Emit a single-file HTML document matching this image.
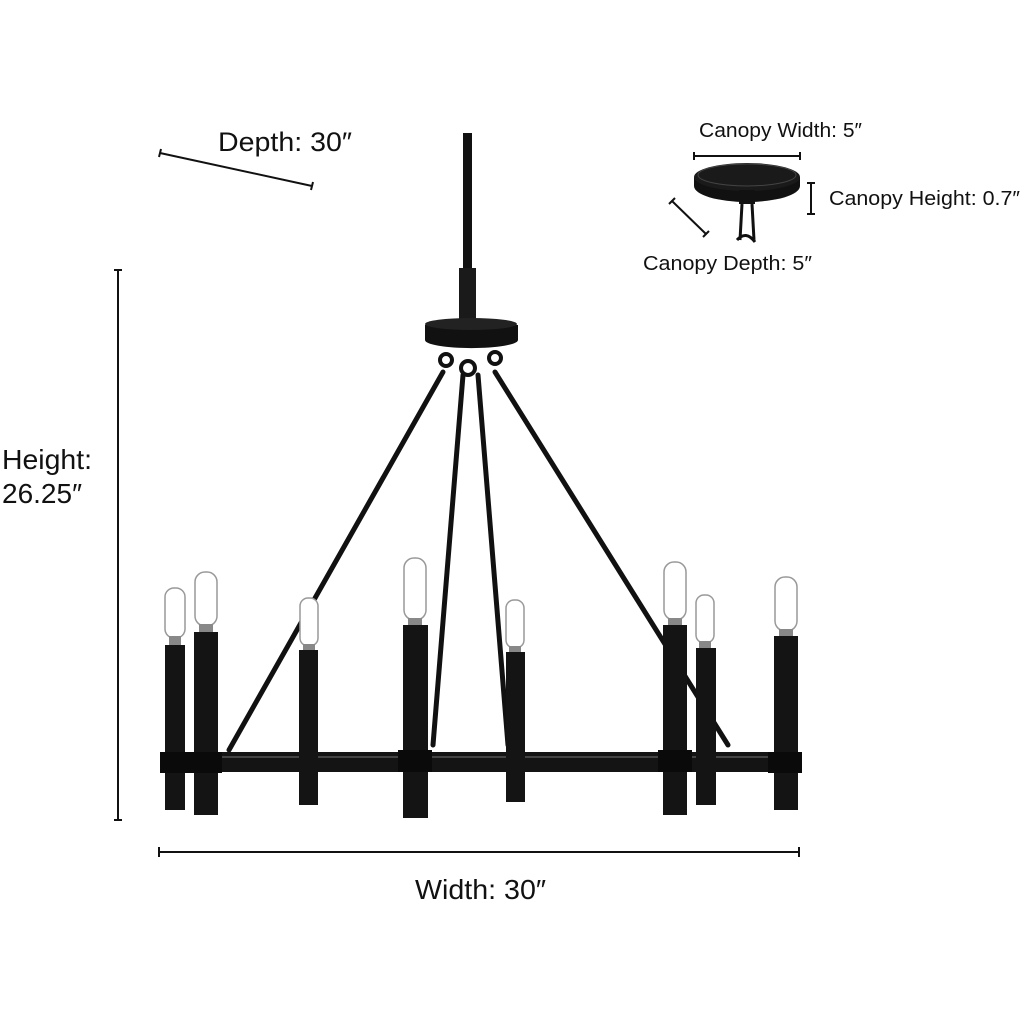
<!DOCTYPE html>
<html><head><style>
html,body{margin:0;padding:0;background:#fff;}
svg{display:block;}
text{font-family:"Liberation Sans",sans-serif;fill:#111;}
</style></head><body>
<svg width="1024" height="1024" viewBox="0 0 1024 1024" xmlns="http://www.w3.org/2000/svg">
<rect width="1024" height="1024" fill="#fff"/>
<g stroke="#111" stroke-width="2" fill="none">
<line x1="160" y1="153" x2="312" y2="186"/>
<line x1="161" y1="149" x2="159" y2="157"/><line x1="313" y1="182" x2="311" y2="190"/>
<line x1="118" y1="270" x2="118" y2="820"/>
<line x1="114" y1="270" x2="122" y2="270"/><line x1="114" y1="820" x2="122" y2="820"/>
<line x1="159" y1="852" x2="799" y2="852"/>
<line x1="159" y1="847" x2="159" y2="857"/><line x1="799" y1="847" x2="799" y2="857"/>
<line x1="694" y1="156" x2="800" y2="156"/>
<line x1="694" y1="152" x2="694" y2="160"/><line x1="800" y1="152" x2="800" y2="160"/>
<line x1="811" y1="183" x2="811" y2="214"/>
<line x1="807" y1="183" x2="815" y2="183"/><line x1="807" y1="214" x2="815" y2="214"/>
<line x1="672" y1="201" x2="706" y2="234"/>
<line x1="669" y1="204" x2="675" y2="198"/><line x1="703" y1="237" x2="709" y2="231"/>
</g>
<text x="218" y="151" font-size="27" textLength="134" lengthAdjust="spacingAndGlyphs">Depth: 30″</text>
<text x="2" y="469" font-size="28" textLength="90" lengthAdjust="spacingAndGlyphs">Height:</text>
<text x="2" y="503" font-size="28" textLength="80" lengthAdjust="spacingAndGlyphs">26.25″</text>
<text x="415" y="899" font-size="28" textLength="131" lengthAdjust="spacingAndGlyphs">Width: 30″</text>
<text x="699" y="137" font-size="20" textLength="163" lengthAdjust="spacingAndGlyphs">Canopy Width: 5″</text>
<text x="829" y="205" font-size="20" textLength="191" lengthAdjust="spacingAndGlyphs">Canopy Height: 0.7″</text>
<text x="643" y="270" font-size="20" textLength="169" lengthAdjust="spacingAndGlyphs">Canopy Depth: 5″</text>
<path d="M694 177 L694 186 A53 16 0 0 0 800 186 L800 177 Z" fill="#111"/>
<ellipse cx="747" cy="177" rx="53" ry="14" fill="#1a1a1a"/>
<ellipse cx="747" cy="175" rx="49" ry="11" fill="none" stroke="#444" stroke-width="1"/>
<rect x="739" y="190" width="16" height="14" fill="#111"/>
<path d="M742 204 L740 240 M752 204 L754 240 M737 240 Q746 230 755 242" stroke="#111" stroke-width="3" fill="none"/>
<rect x="463" y="133" width="9" height="140" fill="#111"/>
<rect x="459" y="268" width="17" height="55" fill="#1a1a1a"/>
<path d="M425 325 L425 340 A46 8 0 0 0 518 340 L518 325 Z" fill="#111"/>
<ellipse cx="471" cy="324" rx="46" ry="6" fill="#222"/>
<g stroke="#111" stroke-width="5" stroke-linecap="round">
<line x1="443" y1="372" x2="229" y2="750"/>
<line x1="463" y1="375" x2="433" y2="745"/>
<line x1="478" y1="375" x2="508" y2="745"/>
<line x1="495" y1="372" x2="728" y2="745"/>
</g>
<g fill="none" stroke="#111" stroke-width="4">
<circle cx="446" cy="360" r="6"/><circle cx="468" cy="368" r="7"/><circle cx="495" cy="358" r="6"/>
</g>
<rect x="165" y="752" width="615" height="20" rx="9" fill="#141414"/>
<line x1="180" y1="757" x2="770" y2="757" stroke="#555" stroke-width="1.5"/>
<g fill="#141414">
<rect x="165" y="645" width="20" height="165"/>
<rect x="194" y="632" width="24" height="183"/>
<rect x="299" y="650" width="19" height="155"/>
<rect x="403" y="625" width="25" height="193"/>
<rect x="506" y="652" width="19" height="150"/>
<rect x="663" y="625" width="24" height="190"/>
<rect x="696" y="648" width="20" height="157"/>
<rect x="774" y="636" width="24" height="174"/>
</g>
<g fill="#0a0a0a">
<rect x="160" y="752" width="30" height="21"/>
<rect x="190" y="752" width="32" height="21"/>
<rect x="398" y="750" width="34" height="22"/>
<rect x="658" y="750" width="34" height="22"/>
<rect x="768" y="752" width="34" height="21"/>
</g>
<g fill="#fff" stroke="#999" stroke-width="1.5">
<rect x="165" y="588" width="20" height="50" rx="9"/>
<rect x="195" y="572" width="22" height="54" rx="10"/>
<rect x="300" y="598" width="18" height="48" rx="8"/>
<rect x="404" y="558" width="22" height="62" rx="10"/>
<rect x="506" y="600" width="18" height="48" rx="8"/>
<rect x="664" y="562" width="22" height="58" rx="10"/>
<rect x="696" y="595" width="18" height="48" rx="8"/>
<rect x="775" y="577" width="22" height="54" rx="10"/>
</g>
<g fill="#888">
<rect x="169" y="636" width="12" height="9"/>
<rect x="199" y="624" width="14" height="8"/>
<rect x="303" y="644" width="12" height="6"/>
<rect x="408" y="618" width="14" height="7"/>
<rect x="509" y="646" width="12" height="6"/>
<rect x="668" y="618" width="14" height="7"/>
<rect x="699" y="641" width="12" height="7"/>
<rect x="779" y="629" width="14" height="7"/>
</g>
</svg>
</body></html>
